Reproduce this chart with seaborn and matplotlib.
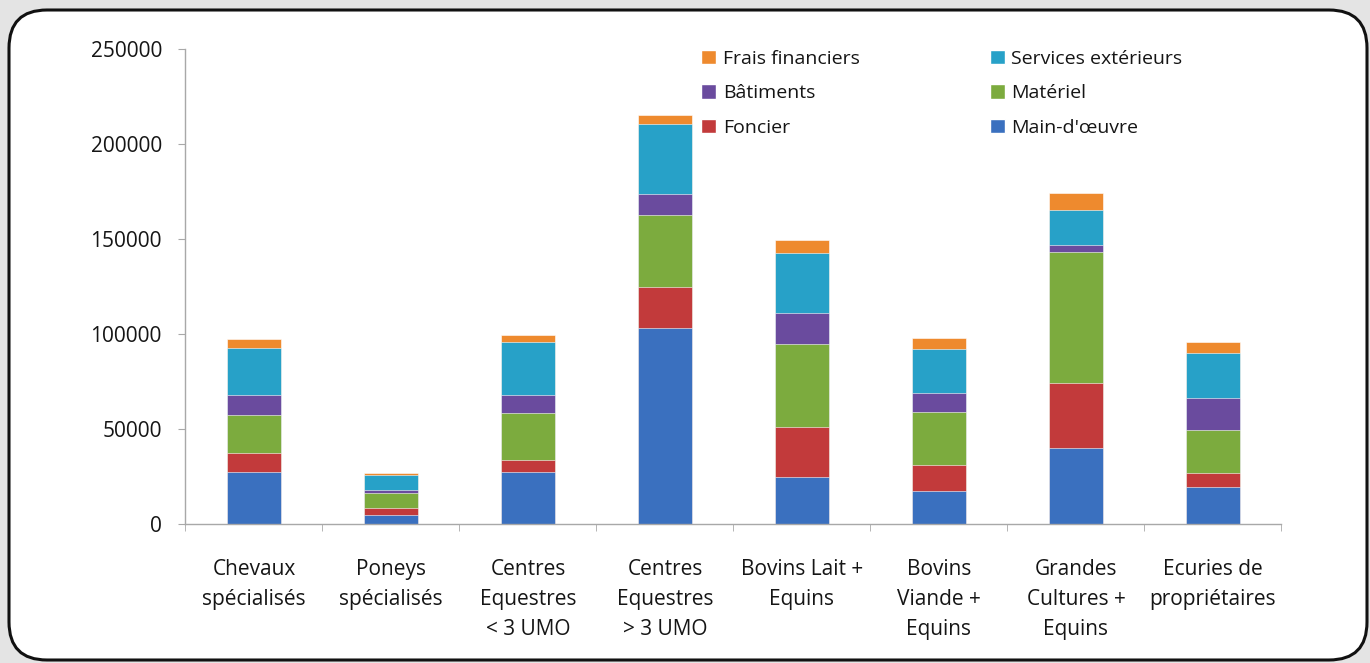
import numpy as np
import pandas as pd
import seaborn as sns
import matplotlib.pyplot as plt
from matplotlib.patches import Patch, FancyBboxPatch

# Categories (x axis)
categories = [
    "Chevaux\nspécialisés",
    "Poneys\nspécialisés",
    "Centres\nEquestres\n< 3 UMO",
    "Centres\nEquestres\n> 3 UMO",
    "Bovins Lait +\nEquins",
    "Bovins\nViande +\nEquins",
    "Grandes\nCultures +\nEquins",
    "Ecuries de\npropriétaires",
]

# Cost components (stacked bottom -> top)
main_oeuvre = [27500, 4700, 27500, 103000, 24600, 17500, 40200, 19600]
foncier = [10000, 3500, 6100, 21600, 26300, 13500, 33900, 7400]
materiel = [19800, 7900, 24900, 38300, 43900, 28100, 69300, 22500]
batiments = [10500, 1700, 9300, 10900, 16100, 9700, 3500, 16700]
services_ext = [24600, 8200, 28000, 36500, 31900, 23200, 18400, 23700]
frais_fin = [5000, 1000, 3500, 5000, 6500, 5800, 9000, 6000]

series_names = ["Main-d'œuvre", "Foncier", "Matériel", "Bâtiments",
                "Services extérieurs", "Frais financiers"]
series_values = [main_oeuvre, foncier, materiel, batiments, services_ext, frais_fin]
colors = ["#3a70bf", "#c23a3b", "#7cab3e", "#6a4b9e", "#27a1c8", "#ee8a2e"]

sns.set_style("white")
plt.rcParams['font.family'] = ['Open Sans', 'DejaVu Sans']

fig = plt.figure(figsize=(13.7, 6.63), dpi=100)
fig.patch.set_facecolor("#e4e4e4")

# rounded frame around the chart (behind the axes)
frame = FancyBboxPatch((0.09, 0.03), 13.58, 6.50,
                       boxstyle="round,pad=0,rounding_size=0.38",
                       transform=fig.dpi_scale_trans,
                       facecolor="white", edgecolor="#111111", linewidth=2.2,
                       zorder=-5)
fig.patches.append(frame)

ax = fig.add_axes([0.1354, 0.2097, 0.80, 0.7163])
ax.set_facecolor("none")
ax.set_zorder(1)

# long-form table with cumulative tops for each layer
rows = []
cum = np.zeros(len(categories))
for name, vals in zip(series_names, series_values):
    cum = cum + np.array(vals)
    for cat, top in zip(categories, cum):
        rows.append({"categorie": cat, "serie": name, "top": top})
df = pd.DataFrame(rows)

# draw from top layer to bottom so lower layers overlay the taller bars
for name, col in reversed(list(zip(series_names, colors))):
    sub = df[df["serie"] == name]
    sns.barplot(data=sub, x="categorie", y="top", order=categories,
                color=col, saturation=1, width=0.4, ax=ax,
                edgecolor="#ffffff", linewidth=0.4)

ax.set_xlim(-0.5, len(categories) - 0.5)
ax.set_ylim(0, 250000)
ax.set_yticks(np.arange(0, 250001, 50000))
ax.set_xlabel("")
ax.set_ylabel("")

sns.despine(ax=ax)
for side in ["left", "bottom"]:
    ax.spines[side].set_color("#a8a8a8")
    ax.spines[side].set_linewidth(1.0)

ax.tick_params(axis="y", which="major", length=5, color="#a8a8a8",
               labelsize=15, labelcolor="#151515", pad=12, left=True)
ax.tick_params(axis="x", which="major", length=0, labelsize=15,
               labelcolor="#151515", pad=25)
ax.set_xticks(np.arange(-0.5, len(categories), 1.0), minor=True)
ax.tick_params(axis="x", which="minor", length=5, color="#a8a8a8", bottom=True)
for lab in ax.get_xticklabels():
    lab.set_linespacing(1.58)

# legend: two columns, top-right
handles = [Patch(facecolor=c, label=n) for n, c in zip(series_names, colors)]
order = [5, 3, 1, 4, 2, 0]
fig.legend([handles[i] for i in order], [series_names[i] for i in order],
           ncol=2, loc="upper left", bbox_to_anchor=(0.512, 0.925),
           frameon=False, fontsize=14, handlelength=0.75, handleheight=0.75,
           handletextpad=0.35, labelspacing=0.85, columnspacing=6.7,
           borderpad=0, borderaxespad=0, labelcolor="#151515")

fig.savefig("out.png", dpi=100, facecolor=fig.get_facecolor())
